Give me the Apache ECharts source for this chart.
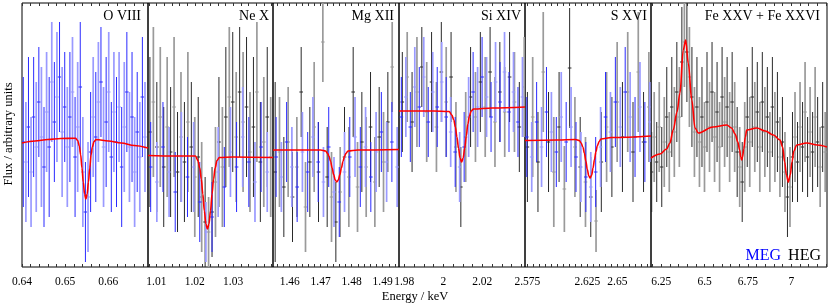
<!DOCTYPE html>
<html><head><meta charset="utf-8">
<script src="https://cdn.jsdelivr.net/npm/echarts@6/dist/echarts.min.js"></script>
<style>html,body{margin:0;padding:0;background:#fff}#c{width:830px;height:305px}</style>
</head><body><div id="c"></div><script>
// ---------- DATA: [energy keV, flux, error] ----------
const o8Meg = [[0.6403,125,65],[0.6409,105,60],[0.6415,140,70],[0.6421,95,55],[0.6427,150,60],[0.6433,120,65],[0.6439,165,55],[0.6445,130,70],[0.6451,100,60],[0.6457,155,60],[0.6463,120,70],[0.6469,185,60],[0.6475,145,60],[0.6481,170,65],[0.6487,190,55],[0.6493,135,65],[0.6499,160,55],[0.6505,120,60],[0.6511,150,65],[0.6517,175,55],[0.6523,110,60],[0.6529,140,65],[0.6535,180,65],[0.6541,95,55],[0.6547,55,50],[0.6553,70,55],[0.6559,115,60],[0.6565,150,60],[0.6571,130,65],[0.6577,165,60],[0.6583,185,55],[0.6589,120,60],[0.6595,145,65],[0.6601,175,60],[0.6607,110,55],[0.6613,155,60],[0.6619,125,65],[0.6625,160,55],[0.6631,100,60],[0.6637,140,65],[0.6643,175,60],[0.6649,120,55],[0.6655,150,65],[0.6661,95,55],[0.6667,135,60],[0.6673,110,55],[0.6679,170,60],[0.6685,130,55]];
const o8Model = [[0.6400,124],[0.6430,126],[0.6460,127.5],[0.6490,128.5],[0.6524,128.7],[0.6529,126.5],[0.6533,120.8],[0.6536,112],[0.6539,99],[0.6542,85],[0.6545,73],[0.6548,68],[0.6551,73],[0.6554,85],[0.6557,99],[0.6560,112],[0.6563,120],[0.6567,125.5],[0.6572,127.5],[0.6600,126],[0.6630,124],[0.6660,121.5],[0.6692,119]];

const ne10Heg = [[1.0083,135,75],[1.0092,165,75],[1.0101,120,65],[1.0110,150,70],[1.0119,100,60],[1.0128,140,70],[1.0137,115,65],[1.0146,160,70],[1.0155,95,60],[1.0164,130,65],[1.0173,105,60],[1.0182,145,70],[1.0191,120,65],[1.0200,90,60],[1.0209,110,60],[1.0218,70,55],[1.0227,45,45],[1.0236,35,35],[1.0245,55,45],[1.0254,85,55],[1.0263,125,65],[1.0272,100,60],[1.0281,150,70],[1.0290,170,70],[1.0299,165,70],[1.0308,130,65],[1.0317,175,65],[1.0326,145,70],[1.0335,160,70],[1.0344,115,60],[1.0353,140,70],[1.0362,175,70],[1.0371,105,60],[1.0380,125,65],[1.0389,150,70],[1.0398,110,60]];
const ne10Meg = [[1.0085,100,45],[1.0101,85,40],[1.0117,120,45],[1.0133,95,45],[1.0149,75,40],[1.0165,110,45],[1.0181,90,40],[1.0197,100,45],[1.0213,65,40],[1.0229,35,30],[1.0245,50,35],[1.0261,95,45],[1.0277,80,40],[1.0293,115,45],[1.0309,100,45],[1.0325,130,50],[1.0341,105,45],[1.0357,85,40],[1.0373,120,45],[1.0389,95,40]];
const ne10Model = [[1.0078,111.5],[1.0150,111],[1.0202,111],[1.0208,106.7],[1.0213,99],[1.0217,88],[1.0221,73],[1.0225,56],[1.0229,43],[1.0233,38],[1.0237,43],[1.0241,56],[1.0245,73],[1.0249,88],[1.0253,99],[1.0258,106.5],[1.0264,109.5],[1.0300,110],[1.0404,109.5]];

const mg12Heg = [[1.4553,95,90],[1.4567,115,55],[1.4581,80,50],[1.4595,125,55],[1.4609,70,45],[1.4623,100,50],[1.4637,175,45],[1.4651,60,45],[1.4665,105,55],[1.4679,140,65],[1.4693,95,50],[1.4707,225,40],[1.4721,90,50],[1.4735,70,45],[1.4749,45,40],[1.4763,75,45],[1.4777,110,50],[1.4791,90,50],[1.4805,175,45],[1.4819,80,45],[1.4833,125,50],[1.4847,100,50],[1.4861,140,55],[1.4875,85,45],[1.4889,130,50],[1.4903,105,50],[1.4917,145,50],[1.4931,200,45]];
const mg12Meg = [[1.4556,110,40],[1.4573,90,35],[1.4590,125,40],[1.4607,100,40],[1.4624,80,35],[1.4641,115,40],[1.4658,95,40],[1.4675,130,40],[1.4692,105,40],[1.4709,85,35],[1.4726,120,40],[1.4743,75,35],[1.4760,65,35],[1.4777,95,40],[1.4794,110,40],[1.4811,130,40],[1.4828,100,40],[1.4845,120,40],[1.4862,90,35],[1.4879,115,40],[1.4896,135,40],[1.4913,105,40],[1.4930,125,40],[1.4947,100,40]];
const mg12Model = [[1.4546,117],[1.4700,117],[1.4716,116],[1.4722,113.8],[1.4727,110.6],[1.4732,105.5],[1.4737,99],[1.4742,92.4],[1.4747,87],[1.4752,85],[1.4757,87],[1.4762,92.4],[1.4767,99],[1.4772,105.5],[1.4777,110.6],[1.4782,113.8],[1.4788,116],[1.4820,117],[1.4953,117.5]];

const si14Heg = [[1.9790,165,50],[1.9815,190,45],[1.9840,145,50],[1.9865,175,55],[1.9890,200,40],[1.9915,155,50],[1.9940,185,50],[1.9965,140,45],[1.9990,195,50],[2.0015,165,55],[2.0040,190,45],[2.0065,120,45],[2.0090,80,40],[2.0115,130,45],[2.0140,170,50],[2.0165,150,45],[2.0190,185,50],[2.0215,160,50],[2.0240,195,45],[2.0265,145,45],[2.0290,175,50],[2.0315,155,45],[2.0340,190,45],[2.0365,165,50],[2.0390,140,45],[2.0415,180,50]];
const si14Meg = [[1.9785,150,40],[1.9808,170,40],[1.9831,140,35],[1.9854,180,40],[1.9877,160,40],[1.9900,190,40],[1.9923,145,35],[1.9946,175,40],[1.9969,160,40],[1.9992,185,40],[2.0015,150,40],[2.0038,135,35],[2.0061,115,35],[2.0084,100,35],[2.0107,120,35],[2.0130,150,40],[2.0153,175,40],[2.0176,160,40],[2.0199,190,40],[2.0222,170,40],[2.0245,150,35],[2.0268,185,40],[2.0291,165,40],[2.0314,195,40],[2.0337,155,40],[2.0360,175,40],[2.0383,145,35],[2.0406,170,40]];
const si14Model = [[1.9773,156],[1.9950,156],[2.0030,155.5],[2.0044,152],[2.0054,147],[2.0062,140],[2.0070,130],[2.0078,119],[2.0086,109],[2.0094,105],[2.0102,109],[2.0110,119],[2.0118,131],[2.0126,143],[2.0134,151],[2.0143,156],[2.0155,158],[2.0250,159],[2.0419,160]];

const s16Heg = [[2.5750,120,55],[2.5794,150,60],[2.5838,105,50],[2.5882,195,60],[2.5926,125,50],[2.5970,95,55],[2.6014,140,55],[2.6058,78,43],[2.6102,199,60],[2.6146,120,50],[2.6190,100,50],[2.6234,85,45],[2.6278,70,40],[2.6322,46,31],[2.6366,105,50],[2.6410,140,55],[2.6454,120,50],[2.6498,165,60],[2.6542,130,55],[2.6586,175,60],[2.6630,115,50],[2.6674,195,60],[2.6718,125,50],[2.6762,160,55]];
const s16Meg = [[2.5745,130,40],[2.5786,110,35],[2.5827,145,40],[2.5868,120,40],[2.5909,155,45],[2.5950,135,40],[2.5991,115,35],[2.6032,150,45],[2.6073,125,40],[2.6114,140,40],[2.6155,110,35],[2.6196,100,35],[2.6237,90,35],[2.6278,80,35],[2.6319,95,35],[2.6360,120,40],[2.6401,150,45],[2.6442,135,40],[2.6483,165,45],[2.6524,140,40],[2.6565,175,45],[2.6606,150,45],[2.6647,130,40],[2.6688,160,45],[2.6729,125,40],[2.6770,145,40]];
const s16Model = [[2.5730,126.5],[2.6000,127],[2.6150,127.5],[2.6183,126.5],[2.6198,124],[2.6213,119.8],[2.6225,113.7],[2.6237,106],[2.6249,97.8],[2.6261,91.3],[2.6273,89],[2.6285,91.8],[2.6297,99],[2.6309,107.5],[2.6321,115.2],[2.6333,121.3],[2.6348,125.5],[2.6363,128],[2.6450,129.5],[2.6780,131]];

const feHeg = [[6.1950,95,40],[6.2095,130,45],[6.2240,105,40],[6.2385,140,45],[6.2530,100,40],[6.2675,125,45],[6.2820,150,50],[6.2965,115,40],[6.3110,160,50],[6.3255,135,45],[6.3400,175,50],[6.3545,150,50],[6.3690,205,55],[6.3835,225,45],[6.3980,215,50],[6.4125,190,50],[6.4270,170,50],[6.4415,135,45],[6.4560,160,50],[6.4705,125,45],[6.4850,150,50],[6.4995,120,45],[6.5140,165,50],[6.5285,140,45],[6.5430,175,50],[6.5575,130,45],[6.5720,155,50],[6.5865,120,45],[6.6010,170,50],[6.6155,145,45],[6.6300,160,50],[6.6445,130,45],[6.6590,165,50],[6.6735,140,45],[6.6880,115,45],[6.7025,100,40],[6.7170,85,40],[6.7315,120,45],[6.7460,150,50],[6.7605,125,45],[6.7750,170,50],[6.7895,140,45],[6.8040,155,50],[6.8185,120,45],[6.8330,165,50],[6.8475,135,45],[6.8620,150,50],[6.8765,115,40],[6.8910,160,50],[6.9055,130,45],[6.9200,145,50],[6.9345,110,40],[6.9490,125,45],[6.9635,95,40],[6.9780,70,40],[6.9925,80,40],[7.0070,110,45],[7.0215,130,45],[7.0360,105,40],[7.0505,140,45],[7.0650,120,45],[7.0795,155,50],[7.0940,110,40],[7.1085,135,45],[7.1230,115,40],[7.1375,150,50],[7.1520,125,45],[7.1665,100,40],[7.1810,140,45],[7.1955,115,40]];
const feModel = [[6.191,109],[6.243,113],[6.281,118],[6.300,124],[6.319,137],[6.341,155],[6.358,174],[6.377,217],[6.391,227],[6.406,204],[6.426,167],[6.445,139],[6.464,134],[6.549,140],[6.628,142],[6.656,139],[6.676,133],[6.692,125],[6.702,117],[6.709,110],[6.714,107],[6.719,110],[6.726,118],[6.735,130],[6.743,137],[6.801,139],[6.850,136],[6.897,132],[6.935,127],[6.950,120],[6.962,105],[6.972,92],[6.983,85],[6.994,92],[7.004,105],[7.015,116],[7.031,122],[7.089,124],[7.150,122],[7.206,120]];

// tick labels and tick marks
const o8Labels = [0.64,0.65,0.66];
const o8Ticks = [0.640,0.642,0.644,0.646,0.648,0.650,0.652,0.654,0.656,0.658,0.660,0.662,0.664,0.666,0.668];
const ne10Labels = [1.01,1.02,1.03];
const ne10Ticks = [1.008,1.010,1.012,1.014,1.016,1.018,1.020,1.022,1.024,1.026,1.028,1.030,1.032,1.034,1.036,1.038,1.040];
const mg12Labels = [1.46,1.47,1.48,1.49];
const mg12Ticks = [1.456,1.458,1.460,1.462,1.464,1.466,1.468,1.470,1.472,1.474,1.476,1.478,1.480,1.482,1.484,1.486,1.488,1.490,1.492,1.494];
const si14Labels = [1.98,2,2.02];
const si14Ticks = [1.980,1.985,1.990,1.995,2.000,2.005,2.010,2.015,2.020,2.025,2.030,2.035,2.040];
const s16Labels = [2.575,2.625,2.65];
const s16Ticks = [2.575,2.580,2.585,2.590,2.595,2.600,2.605,2.610,2.615,2.620,2.625,2.630,2.635,2.640,2.645,2.650,2.655,2.660,2.665,2.670,2.675];
const feLabels = [6.25,6.5,6.75,7];
const feTicks = [6.20,6.25,6.30,6.35,6.40,6.45,6.50,6.55,6.60,6.65,6.70,6.75,6.80,6.85,6.90,6.95,7.00,7.05,7.10,7.15,7.20];

const panelNames = ['O VIII','Ne X','Mg XII','Si XIV','S XVI','Fe XXV + Fe XXVI'];

// ---------- LAYOUT ----------
const panels = [
  {name:panelNames[0], min:0.6400, max:0.6692, labels:o8Labels, ticks:o8Ticks, heg:null, meg:o8Meg, model:o8Model, left:22, width:126, titleRight:141},
  {name:panelNames[1], min:1.0078, max:1.0404, labels:ne10Labels, ticks:ne10Ticks, heg:ne10Heg, meg:ne10Meg, model:ne10Model, left:148, width:125, titleRight:269},
  {name:panelNames[2], min:1.4546, max:1.4953, labels:mg12Labels, ticks:mg12Ticks, heg:mg12Heg, meg:mg12Meg, model:mg12Model, left:273, width:126, titleRight:394},
  {name:panelNames[3], min:1.9773, max:2.0419, labels:si14Labels, ticks:si14Ticks, heg:si14Heg, meg:si14Meg, model:si14Model, left:399, width:126, titleRight:521},
  {name:panelNames[4], min:2.5730, max:2.6780, labels:s16Labels, ticks:s16Ticks, heg:s16Heg, meg:s16Meg, model:s16Model, left:525, width:126, titleRight:647},
  {name:panelNames[5], min:6.1910, max:7.2060, labels:feLabels, ticks:feTicks, heg:feHeg, meg:null, model:feModel, left:651, width:176, titleRight:820}
];
const TOP = 3, H = 264, YMAX = 264;
const SERIF = '"Liberation Serif", "DejaVu Serif", serif';

function errRender(dark, light) {
  return function (params, api) {
    const e = api.value(0), v = api.value(1), er = api.value(2);
    const hi = Math.min(YMAX, v + er), lo = Math.max(0, v - er);
    const p1 = api.coord([e, hi]), p2 = api.coord([e, lo]), pc = api.coord([e, v]);
    const alt = params.dataIndex % 2 === 1;
    const c = alt ? light : dark;
    const ch = [{type:'line', shape:{x1:p1[0], y1:p1[1], x2:p2[0], y2:p2[1]}, style:{stroke:c, lineWidth: alt ? 1.7 : 1}}];
    if (v >= 0 && v <= YMAX) ch.push({type:'line', shape:{x1:pc[0]-1.8, y1:pc[1], x2:pc[0]+1.8, y2:pc[1]}, style:{stroke:c, lineWidth:1}});
    return {type:'group', children: ch};
  };
}

const grid = [], xAxis = [], yAxis = [], series = [], graphic = [];
panels.forEach((p, i) => {
  grid.push({left:p.left, top:TOP, width:p.width, height:H, show:true, borderColor:'#000', borderWidth:1, backgroundColor:'rgba(0,0,0,0)'});
  xAxis.push({type:'value', gridIndex:i, min:p.min, max:p.max, position:'bottom',
    axisLine:{show:false}, splitLine:{show:false},
    axisTick:{show:true, inside:true, length:3, customValues:p.ticks, lineStyle:{color:'#333', width:1}},
    axisLabel:{show:true, customValues:p.labels, margin:9, color:'#000', fontSize:11.5, fontFamily:SERIF,
      formatter: v => String(+(+v).toFixed(4))}});
  xAxis.push({type:'value', gridIndex:i, min:p.min, max:p.max, position:'top',
    axisLine:{show:false}, splitLine:{show:false}, axisLabel:{show:false},
    axisTick:{show:true, inside:true, length:3, customValues:p.ticks, lineStyle:{color:'#333', width:1}}});
  yAxis.push({type:'value', gridIndex:i, min:0, max:YMAX, show:false});
  if (p.heg) series.push({type:'custom', xAxisIndex:2*i, yAxisIndex:i, data:p.heg, encode:{x:0, y:1}, clip:true,
    renderItem: errRender('#2a2a2a', '#9a9a9a'), z:2, silent:true});
  if (p.meg) series.push({type:'custom', xAxisIndex:2*i, yAxisIndex:i, data:p.meg, encode:{x:0, y:1}, clip:true,
    renderItem: errRender('#2a2aff', '#9a9aff'), z:3, silent:true});
  series.push({type:'line', xAxisIndex:2*i, yAxisIndex:i, data:p.model, showSymbol:false, smooth:0.35, smoothMonotone:'x',
    lineStyle:{color:'#ff0000', width:1.6}, z:5, silent:true, clip:true});
  graphic.push({type:'text', x:p.titleRight, y:16, z:10, style:{text:p.name, align:'right', verticalAlign:'middle', font:'14px ' + SERIF, fill:'#000'}});
});
graphic.push({type:'text', x:415, y:297, style:{text:'Energy / keV', align:'center', verticalAlign:'middle', font:'12.5px ' + SERIF, fill:'#000'}});
graphic.push({type:'text', x:9, y:134, rotation:Math.PI/2, style:{text:'Flux / arbitrary units', align:'center', verticalAlign:'middle', font:'12.5px ' + SERIF, fill:'#000'}});
graphic.push({type:'text', x:781, y:256, z:10, style:{text:'MEG', align:'right', verticalAlign:'middle', font:'16px ' + SERIF, fill:'#0000ff'}});
graphic.push({type:'text', x:821, y:256, z:10, style:{text:'HEG', align:'right', verticalAlign:'middle', font:'16px ' + SERIF, fill:'#000'}});

const chart = echarts.init(document.getElementById('c'), null, {renderer:'canvas'});
chart.setOption({animation:false, backgroundColor:'#fff', grid, xAxis, yAxis, series, graphic});
</script></body></html>
